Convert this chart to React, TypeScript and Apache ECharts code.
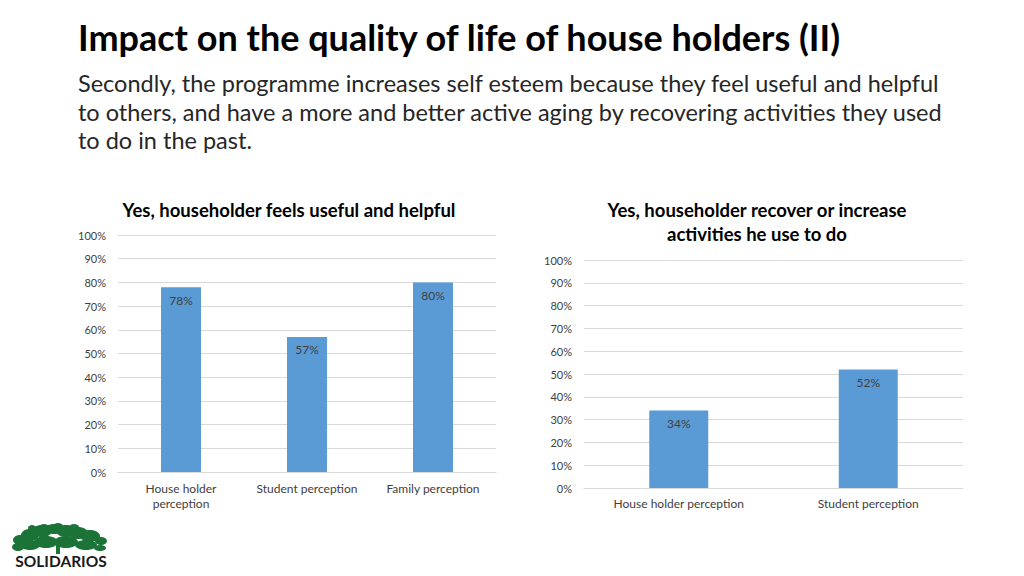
import React, { useEffect, useRef } from "react";
import * as echarts from "echarts";

const leftCategories = ["House holder\nperception", "Student perception", "Family perception"];
const leftValues = [78, 57, 80];
const rightCategories = ["House holder perception", "Student perception"];
const rightValues = [34, 52];
const yTicks = { min: 0, max: 100, interval: 10 };

const titleText = "Impact on the quality of life of house holders (II)";
const bodyLines = [
  "Secondly, the programme increases self esteem because they feel useful and helpful",
  "to others, and have a more and better active aging by recovering activities they used",
  "to do in the past.",
];
const leftTitle = "Yes, householder feels useful and helpful";
const rightTitle = "Yes, householder recover or increase\nactivities he use to do";

const FONT = "Lato, 'Open Sans', sans-serif";
const BAR = "#5B9BD5";
const GRIDC = "#D9D9D9";

export default function App() {
  const ref = useRef<HTMLDivElement>(null);
  useEffect(() => {
    const chart = echarts.init(ref.current!, undefined, { renderer: "svg" });
    const yAxisBase = (gridIndex: number) => ({
      type: "value" as const,
      gridIndex,
      min: yTicks.min,
      max: yTicks.max,
      interval: yTicks.interval,
      axisLine: { show: false },
      axisTick: { show: false },
      axisLabel: { formatter: "{value}%", color: "#404040", fontSize: 11, fontFamily: FONT, margin: 12 },
      splitLine: { lineStyle: { color: GRIDC, width: 1 } },
    });
    const xAxisBase = (gridIndex: number, data: string[], margin: number) => ({
      type: "category" as const,
      gridIndex,
      data,
      axisLine: { show: true, lineStyle: { color: GRIDC } },
      axisTick: { show: false },
      axisLabel: { color: "#404040", fontSize: 12, fontFamily: FONT, margin, lineHeight: 15, interval: 0 },
    });
    const labelCfg = {
      show: true,
      position: "insideTop" as const,
      distance: 7,
      formatter: "{c}%",
      color: "#404040",
      fontSize: 12,
      fontFamily: FONT,
    };
    const logoTree: any[] = [];
    const blobs = [
      [20, 540, 7, 5], [30, 535, 9, 6], [42, 531, 10, 6], [54, 529, 9, 5], [66, 531, 10, 6],
      [78, 533, 10, 6], [90, 536, 10, 6], [101, 541, 6, 4], [18, 547, 6, 4], [30, 545, 10, 5],
      [46, 542, 12, 6], [66, 542, 12, 6], [86, 545, 11, 5], [58, 526, 5, 3], [44, 527, 5, 3],
      [100, 548, 6, 3], [32, 528, 4, 3], [74, 527, 5, 3],
    ];
    blobs.forEach(([cx, cy, rx, ry]) =>
      logoTree.push({ type: "ellipse", shape: { cx, cy, rx, ry }, style: { fill: "#1B7337" } })
    );
    logoTree.push({ type: "rect", shape: { x: 56, y: 540, width: 4, height: 14 }, style: { fill: "#1B7337" } });

    chart.setOption({
      animation: false,
      backgroundColor: "#ffffff",
      grid: [
        { left: 118, right: 528, top: 235, bottom: 104 },
        { left: 584, right: 61, top: 260, bottom: 88 },
      ],
      xAxis: [xAxisBase(0, leftCategories, 9), xAxisBase(1, rightCategories, 8)],
      yAxis: [yAxisBase(0), yAxisBase(1)],
      series: [
        { type: "bar", xAxisIndex: 0, yAxisIndex: 0, data: leftValues, barWidth: 40, itemStyle: { color: BAR }, label: labelCfg },
        { type: "bar", xAxisIndex: 1, yAxisIndex: 1, data: rightValues, barWidth: 59, itemStyle: { color: BAR }, label: labelCfg },
      ],
      graphic: [
        {
          type: "text", left: 78, top: 19,
          style: { text: titleText, font: `bold 36px ${FONT}`, fill: "#000000" },
        },
        ...bodyLines.map((t, i) => ({
          type: "text", left: 78, top: 71 + i * 28.5,
          style: { text: t, font: `23.5px ${FONT}`, fill: "#262626" },
        })),
        {
          type: "text", x: 289, y: 210,
          style: { text: leftTitle, font: `bold 18.5px ${FONT}`, fill: "#000000", align: "center", verticalAlign: "middle" },
        },
        {
          type: "text", x: 757, y: 222,
          style: { text: rightTitle, font: `bold 18.5px ${FONT}`, fill: "#000000", align: "center", verticalAlign: "middle", lineHeight: 24 },
        },
        ...logoTree,
        {
          type: "text", x: 61, y: 561,
          style: { text: "SOLIDARIOS", font: `bold 15.5px ${FONT}`, fill: "#1a1a1a", align: "center", verticalAlign: "middle" },
        },
      ],
    });
    return () => chart.dispose();
  }, []);
  return <div ref={ref} style={{ position: "fixed", left: 0, top: 0, width: 1024, height: 576 }} />;
}
